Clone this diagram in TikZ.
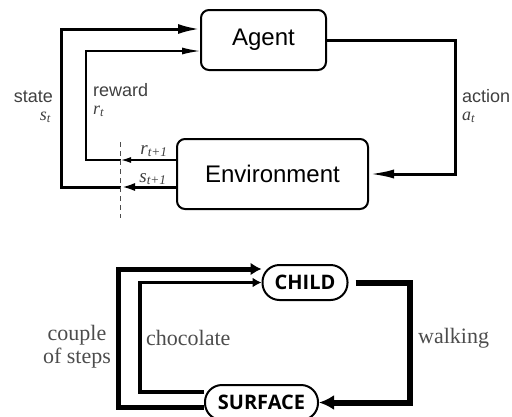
\documentclass[tikz,border=0pt]{standalone}
\usepackage{fontspec}
\usetikzlibrary{arrows.meta}
\newfontfamily\helv{Liberation Sans}
\newfontfamily\serifl{Liberation Serif}
\newfontfamily\pillfont{Open Sans}
\newcommand{\mvar}[3][18]{{\serifl\itshape\fontsize{#1}{#1}\selectfont #2\textsubscript{#3}}}

\begin{document}
\begin{tikzpicture}[x=1pt, y=-1pt,
    box/.style={draw, line width=2pt, rounded corners=8pt, inner sep=0pt,
        font=\helv\fontsize{24}{28}\selectfont},
    pill/.style={draw, line width=2pt, rounded corners=17pt, inner sep=0pt,
        minimum height=35pt, fill=white, font=\pillfont\bfseries\fontsize{20}{24}\selectfont},
    lbl/.style={inner sep=0pt, text=black!75, font=\helv\fontsize{18}{16}\selectfont},
    slbl/.style={inner sep=0pt, text=black!70, font=\serifl\fontsize{22}{24}\selectfont}]
    \useasboundingbox (0,0) rectangle (512,416);

    % Agent and environment
    \node[box, minimum width=125pt, minimum height=60pt] (agent) at (263.5,40) {Agent};
    \node[box, minimum width=191pt, minimum height=70pt] (env) at (272.5,174) {Environment};

    % Corners of the loops
    \coordinate (act) at (455,100);
    \coordinate (rin) at (121,160);
    \coordinate (sin) at (121,187);
    \coordinate (rtop) at (86,51);
    \coordinate (stop) at (61,29);
    \coordinate (cuttop) at (120,142);
    \coordinate (cutbot) at (120,218);

    % Action
    \draw[line width=3pt, -{Latex[length=25pt,width=9pt]}] (agent.east) -| (act) |- (env.east);

    % State and reward
    \draw[line width=3pt, -{Latex[length=14pt,width=8pt]}] (sin -| env.west) -- (sin);
    \draw[line width=1.3pt, -{Latex[length=10pt,width=6pt]}] (rin -| env.west) -- (rin);
    \draw[line width=3pt, -{Latex[length=22pt,width=10pt]}] (sin) -| (stop) -- (agent.west |- stop);
    \draw[line width=1.3pt, -{Latex[length=18pt,width=7pt]}] (rin) -| (rtop) -- (agent.west |- rtop);
    \draw[dashed, dash pattern=on 5pt off 4pt, line width=0.8pt, black!70] (cuttop) -- (cutbot);

    % Labels
    \node[lbl, anchor=base east] (state) at (53,102) {state};
    \node[lbl, anchor=base east] (st) at (51,120) {\mvar{s}{t}};
    \node[lbl, anchor=base west] (reward) at (93,96) {reward};
    \node[lbl, anchor=base west] (rt) at (93,114) {\mvar{r}{t}};
    \node[lbl, anchor=base west] (action) at (462,102) {action};
    \node[lbl, anchor=base west] (at) at (462,120) {\mvar{a}{t}};
    \node[lbl, anchor=base] (rnext) at (154,154) {\mvar[19]{r}{t+1}};
    \node[lbl, anchor=base] (snext) at (153,182) {\mvar[19]{s}{t+1}};

    % Child and surface
    \node[pill, minimum width=85pt] (child) at (305,282.5) {CHILD};
    \node[pill, minimum width=113pt] (surface) at (261.5,402.5) {SURFACE};

    \coordinate (ctop) at (118,269);
    \coordinate (cbot) at (118,407);
    \coordinate (chbot) at (140,392);
    \coordinate (walk) at (410,340);

    % Loops
    \draw[line width=5pt, -{Latex[length=11pt,width=13pt]}] (cbot -| surface.west) -- (cbot) |- (child.west |- ctop);
    \draw[line width=3.5pt, -{Latex[length=9pt,width=10pt]}] (chbot -| surface.west) -- (chbot) |- (child.west);
    \draw[line width=6pt, shorten <=7pt, -{Latex[length=15pt,width=15pt]}] (child.east) -| (walk) |- (surface.east);

    \node[slbl, anchor=base] (couple) at (77,340) {couple};
    \node[slbl, anchor=base] (steps) at (77,363) {of steps};
    \node[slbl, anchor=west] (choc) at (146,338) {chocolate};
    \node[slbl, anchor=west] (walking) at (418,338) {walking};
\end{tikzpicture}
\end{document}
